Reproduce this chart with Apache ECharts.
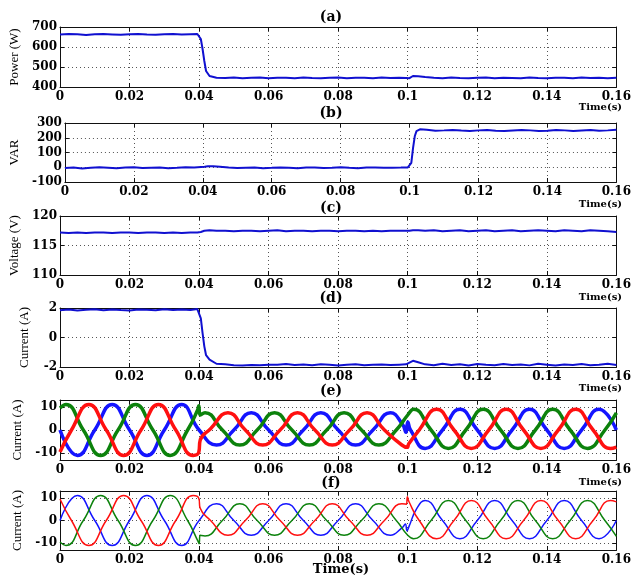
<!DOCTYPE html>
<html><head><meta charset="utf-8">
<script src="https://cdn.jsdelivr.net/npm/echarts@6/dist/echarts.min.js"></script>
<style>html,body{margin:0;padding:0;background:#fff}#c{width:634px;height:578px}</style>
</head><body><div id="c"></div>
<script>
// ---------- labels ----------
const panelLetters = ['(a)','(b)','(c)','(d)','(e)','(f)'];
const yNames = ['Power (W)','VAR','Voltage (V)','Current (A)','Current (A)','Current (A)'];
const xName = 'Time(s)';
// y ranges: [min, max, tick interval]
const yRanges = [[400,700,100],[-100,300,100],[110,120,5],[-2,2,2],[-13,13,10],[-13,13,10]];
const xRange = [0, 0.16, 0.02];

// ---------- slow signals (a)-(d) ----------
const tSlow = [0,0.0025,0.005,0.0075,0.01,0.0125,0.015,0.0175,0.02,0.0225,0.025,0.0275,0.03,0.0325,0.035,0.0375,
 0.0395,
 0.0405,0.041,0.0415,0.042,0.043,0.045,
 0.0475,0.05,0.0525,0.055,0.0575,0.06,0.0625,0.065,0.0675,0.07,0.0725,0.075,0.0775,0.08,0.0825,0.085,0.0875,0.09,0.0925,0.095,0.0975,
 0.0995,
 0.1005,0.101,0.1015,0.102,0.103,0.105,
 0.1075,0.11,0.1125,0.115,0.1175,0.12,0.1225,0.125,0.1275,0.13,0.1325,0.135,0.1375,0.14,0.1425,0.145,0.1475,0.15,0.1525,0.155,0.1575,0.16];

const powerW = [662,665,664,660,664,665,663,661,664,665,662,661,664,665,662,664,
 665,
 640,590,530,480,455,446,
 445,447,444,446,447,444,446,446,444,447,445,444,446,447,444,446,446,444,447,445,446,
 445,
 444,450,455,456,454,450,
 446,444,447,445,444,446,447,444,446,445,444,447,445,444,446,446,444,447,445,446,444,446];

const reactiveVAR = [-5,-2,-8,-4,0,-3,-6,-2,0,-5,-3,-1,-6,-4,0,-2,
 2,
 4,6,7,7,6,4,
 -2,-5,-3,-1,-6,-4,-1,-3,-6,-2,-1,-5,-3,0,-4,-6,-2,-1,-4,-3,-2,
 -1,
 30,130,210,245,257,254,
 248,250,253,249,246,250,252,248,245,249,252,250,246,248,253,250,246,249,252,248,250,254];

const voltageV = [117.2,117.1,117.2,117.1,117.2,117.2,117.1,117.2,117.2,117.1,117.2,117.2,117.1,117.2,117.1,117.2,
 117.2,
 117.3,117.4,117.5,117.6,117.6,117.5,
 117.5,117.4,117.5,117.5,117.4,117.5,117.6,117.4,117.5,117.5,117.4,117.5,117.5,117.4,117.5,117.5,117.4,117.5,117.4,117.5,117.5,
 117.5,
 117.5,117.6,117.6,117.5,117.6,117.5,
 117.6,117.4,117.5,117.6,117.4,117.5,117.6,117.4,117.5,117.6,117.4,117.5,117.6,117.5,117.4,117.6,117.5,117.4,117.6,117.5,117.4,117.3];

const currentA = [1.85,1.9,1.83,1.88,1.92,1.84,1.9,1.86,1.83,1.9,1.88,1.84,1.91,1.86,1.89,1.87,
 1.93,
 1.3,0.3,-0.6,-1.2,-1.5,-1.78,
 -1.82,-1.88,-1.9,-1.86,-1.88,-1.84,-1.85,-1.8,-1.86,-1.83,-1.88,-1.82,-1.85,-1.9,-1.84,-1.82,-1.88,-1.85,-1.83,-1.87,-1.84,
 -1.82,
 -1.7,-1.62,-1.58,-1.6,-1.68,-1.82,
 -1.88,-1.78,-1.86,-1.82,-1.9,-1.8,-1.85,-1.88,-1.8,-1.86,-1.83,-1.89,-1.78,-1.84,-1.9,-1.83,-1.86,-1.8,-1.88,-1.84,-1.78,-1.86];

// ---------- three-phase currents (e) : [time, value] read at peaks / zero crossings ----------
const eBlue = [[0,0],[0.005,-11],[0.01,0],[0.015,11],[0.02,0],[0.025,-11],[0.03,0],[0.035,11],[0.04,0],[0.045,-6.5],[0.05,0],[0.055,7.5],[0.06,0],[0.065,-6.5],[0.07,0],[0.075,7.5],[0.08,0],[0.085,-6.5],[0.09,0],[0.095,7.5],[0.0985,2.5],[0.0995,-1],[0.1,3.5],[0.1008,0],[0.105,-8],[0.11,0],[0.115,9],[0.12,0],[0.125,-8],[0.13,0],[0.135,9],[0.14,0],[0.145,-8],[0.15,0],[0.155,9],[0.16,0]];
const eGreen = [[0,9.5],[0.0017,11],[0.0067,0],[0.0117,-11],[0.0167,0],[0.0217,11],[0.0267,0],[0.0317,-11],[0.0367,0],[0.0396,8.8],[0.0399,10.5],[0.0403,6.5],[0.0417,7.5],[0.0467,0],[0.0517,-6.5],[0.0567,0],[0.0617,7.5],[0.0667,0],[0.0717,-6.5],[0.0767,0],[0.0817,7.5],[0.0867,0],[0.0917,-6.5],[0.0967,0],[0.1,6.5],[0.1017,9],[0.1067,0],[0.1117,-8],[0.1167,0],[0.1217,9],[0.1267,0],[0.1317,-8],[0.1367,0],[0.1417,9],[0.1467,0],[0.1517,-8],[0.1567,0],[0.16,7.4]];
const eRed = [[0,-9.5],[0.0033,0],[0.0083,11],[0.0133,0],[0.0183,-11],[0.0233,0],[0.0283,11],[0.0333,0],[0.0383,-11],[0.0399,-9.7],[0.0403,-4.5],[0.0433,0.5],[0.0483,7.5],[0.0533,0],[0.0583,-6.5],[0.0633,0],[0.0683,7.5],[0.0733,0],[0.0783,-6.5],[0.0833,0],[0.0883,7.5],[0.0933,0],[0.0983,-6.5],[0.0998,-7.5],[0.1003,-6],[0.1033,0],[0.1083,9],[0.1133,0],[0.1183,-8],[0.1233,0],[0.1283,9],[0.1333,0],[0.1383,-8],[0.1433,0],[0.1483,9],[0.1533,0],[0.1583,-8],[0.16,-7.4]];

// ---------- three-phase currents (f) ----------
const fBlue = [[0,0],[0.005,11],[0.01,0],[0.015,-11],[0.02,0],[0.025,11],[0.03,0],[0.035,-11],[0.04,0],[0.045,7.4],[0.05,0],[0.055,-6.5],[0.06,0],[0.065,7.4],[0.07,0],[0.075,-6.5],[0.08,0],[0.085,7.4],[0.09,0],[0.095,-6.5],[0.0985,-3],[0.0993,-1.5],[0.0998,-4.5],[0.1004,-2.5],[0.1025,5],[0.105,8.8],[0.11,0],[0.115,-8],[0.12,0],[0.125,8.8],[0.13,0],[0.135,-8],[0.14,0],[0.145,8.8],[0.15,0],[0.155,-8],[0.16,0]];
const fRed = [[0,9.5],[0.0033,0],[0.0083,-11],[0.0133,0],[0.0183,11],[0.0233,0],[0.0283,-11],[0.0333,0],[0.0383,11],[0.0399,9.8],[0.0403,5.5],[0.0433,0],[0.0483,-6.5],[0.0533,0],[0.0583,7.4],[0.0633,0],[0.0683,-6.5],[0.0733,0],[0.0783,7.4],[0.0833,0],[0.0883,-6.5],[0.0933,0],[0.0983,7.4],[0.0996,7.2],[0.0999,10.5],[0.1003,8.5],[0.1033,0],[0.1083,-8],[0.1133,0],[0.1183,8.8],[0.1233,0],[0.1283,-8],[0.1333,0],[0.1383,8.8],[0.1433,0],[0.1483,-8],[0.1533,0],[0.1583,8.8],[0.16,8.2]];
const fGreen = [[0,-9.5],[0.0017,-11],[0.0067,0],[0.0117,11],[0.0167,0],[0.0217,-11],[0.0267,0],[0.0317,11],[0.0367,0],[0.0397,-9.2],[0.04,-10.2],[0.0403,-6.5],[0.0417,-6.8],[0.0467,0],[0.0517,7.4],[0.0567,0],[0.0617,-6.5],[0.0667,0],[0.0717,7.4],[0.0767,0],[0.0817,-6.5],[0.0867,0],[0.0917,7.4],[0.0967,0],[0.1,-6.5],[0.1017,-8],[0.1067,0],[0.1117,8.8],[0.1167,0],[0.1217,-8],[0.1267,0],[0.1317,8.8],[0.1367,0],[0.1417,-8],[0.1467,0],[0.1517,8.8],[0.1567,0],[0.16,-7]];

// ---------- build option ----------
const zip = (t, v) => t.map((x, i) => [x, v[i]]);
const slowValues = [powerW, reactiveVAR, voltageV, currentA];

const tops = [27, 123, 216, 308, 400, 491];
const heights = [60, 59, 59, 59, 60, 59];
const LEFT = 60, WIDTH = 561;
const SERIF = 'DejaVu Serif';
const frame = { show: true, onZero: false, lineStyle: { color: '#111', width: 1 } };
const tick = { show: true, inside: true, length: 4, lineStyle: { color: '#111', width: 1 } };
const dotted = { show: true, lineStyle: { type: [1, 3], color: '#555', width: 1 } };
const labelStyle = { color: '#000', fontFamily: SERIF, fontWeight: 'bold', fontSize: 12 };

const grid = [], xAxis = [], yAxis = [], series = [], graphic = [];
for (let i = 0; i < 6; i++) {
  grid.push({ left: LEFT, top: tops[i], width: WIDTH, height: heights[i] });
  const xb = { type: 'value', gridIndex: i, min: xRange[0], max: xRange[1], interval: xRange[2] };
  xAxis.push(Object.assign({}, xb, { position: 'bottom', axisLine: frame, axisTick: tick,
    axisLabel: Object.assign({ margin: 4 }, labelStyle), splitLine: dotted }));
  xAxis.push(Object.assign({}, xb, { position: 'top', axisLine: frame, axisTick: tick,
    axisLabel: { show: false }, splitLine: { show: false } }));
  const [mn, mx, iv] = yRanges[i];
  const yb = { type: 'value', gridIndex: i, min: mn, max: mx };
  const fixedTicks = (mn % iv === 0);
  if (fixedTicks) yb.interval = iv; else { yb.minInterval = iv; yb.maxInterval = iv; yb.splitNumber = 2; }
  yAxis.push(Object.assign({}, yb, { position: 'left', name: yNames[i], nameLocation: 'middle', nameGap: 29,
    nameTextStyle: { fontFamily: 'Liberation Serif', fontSize: 13, color: '#000' },
    axisLine: frame, axisTick: tick,
    axisLabel: Object.assign({ margin: 3, showMinLabel: fixedTicks, showMaxLabel: fixedTicks }, labelStyle),
    splitLine: dotted }));
  yAxis.push(Object.assign({}, yb, { position: 'right', axisLine: frame, axisTick: tick,
    axisLabel: { show: false }, splitLine: { show: false } }));
}

const lineSeries = (i, data, color, width, smooth) => ({
  type: 'line', xAxisIndex: 2 * i, yAxisIndex: 2 * i, data: data, showSymbol: false,
  smooth: smooth, lineStyle: { color: color, width: width }, itemStyle: { color: color },
  clip: true, silent: true
});
slowValues.forEach((v, i) => series.push(lineSeries(i, zip(tSlow, v), '#1010d0', 2, false)));
series.push(lineSeries(4, eBlue, '#1414ff', 3.5, 0.5));
series.push(lineSeries(4, eGreen, '#0c820c', 3.5, 0.5));
series.push(lineSeries(4, eRed, '#ff1010', 3.5, 0.5));
series.push(lineSeries(5, fBlue, '#1414ff', 1.5, 0.5));
series.push(lineSeries(5, fGreen, '#0c820c', 1.5, 0.5));
series.push(lineSeries(5, fRed, '#ff1010', 1.5, 0.5));

// panel letters and axis name texts
const letterY = [17, 113, 208, 298, 391, 483];
panelLetters.forEach((s, i) => graphic.push({ type: 'text', x: 331, y: letterY[i],
  style: { text: s, font: 'bold 14px "DejaVu Serif"', fill: '#000', align: 'center', verticalAlign: 'middle' } }));
const timeY = [107, 204, 297, 388, 482];
timeY.forEach(y => graphic.push({ type: 'text', x: 622, y: y,
  style: { text: xName, font: 'bold 10px "DejaVu Serif"', fill: '#000', align: 'right', verticalAlign: 'middle' } }));
graphic.push({ type: 'text', x: 341, y: 570,
  style: { text: xName, font: 'bold 13px "DejaVu Serif"', fill: '#000', align: 'center', verticalAlign: 'middle' } });

const chart = echarts.init(document.getElementById('c'), null, { renderer: 'canvas' });
chart.setOption({ animation: false, backgroundColor: '#fff', grid, xAxis, yAxis, series, graphic });
</script></body></html>
